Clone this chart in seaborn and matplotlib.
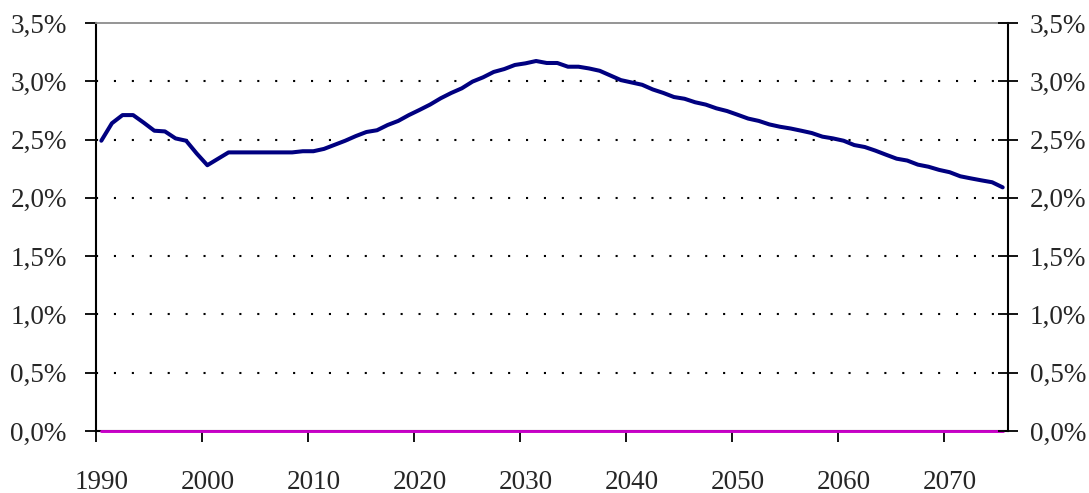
import numpy as np
import pandas as pd
import matplotlib
matplotlib.use("Agg")
import matplotlib.pyplot as plt
from matplotlib.ticker import FuncFormatter, FixedLocator
import seaborn as sns

years = list(range(1990, 2076))
share = [
    2.49, 2.64, 2.71, 2.71, 2.645, 2.576, 2.57, 2.51, 2.49, 2.38,   # 1990-1999
    2.28, 2.335, 2.39, 2.39, 2.39, 2.39, 2.39, 2.39, 2.39, 2.40,    # 2000-2009
    2.40, 2.42, 2.455, 2.49, 2.53, 2.565, 2.58, 2.625, 2.66, 2.71,  # 2010-2019
    2.754, 2.80, 2.854, 2.90, 2.94, 2.997, 3.034, 3.08, 3.105, 3.14,  # 2020-2029
    3.154, 3.174, 3.157, 3.157, 3.125, 3.125, 3.11, 3.09, 3.05, 3.01,  # 2030-2039
    2.99, 2.97, 2.93, 2.90, 2.865, 2.85, 2.82, 2.80, 2.768, 2.745,  # 2040-2049
    2.713, 2.68, 2.66, 2.63, 2.61, 2.595, 2.576, 2.556, 2.525, 2.51,  # 2050-2059
    2.49, 2.453, 2.436, 2.405, 2.37, 2.336, 2.32, 2.285, 2.267, 2.24,  # 2060-2069
    2.22, 2.185, 2.167, 2.15, 2.134, 2.09,                          # 2070-2075
]
baseline = [0.0] * len(years)
y_ticks = [0.0, 0.5, 1.0, 1.5, 2.0, 2.5, 3.0, 3.5]
x_labels = [1990, 2000, 2010, 2020, 2030, 2040, 2050, 2060, 2070]

df = pd.DataFrame({"year": years, "share": share, "baseline": baseline})

sns.set_style("white")
plt.rcParams["font.family"] = ["Liberation Serif", "DejaVu Serif"]
FS = 19.5

fig = plt.figure(figsize=(10.89, 4.93), dpi=100)
ax = fig.add_axes([96 / 1089, 62 / 493, (1008 - 96) / 1089, (431 - 23) / 493])

# dotted horizontal grid
for v in y_ticks[1:-1]:
    ax.axhline(v, color="black", linewidth=1.5, linestyle=(0, (1, 7.6)), zorder=1)

sns.lineplot(data=df, x="year", y="share", ax=ax, color="#000080",
             linewidth=2.9, zorder=4, legend=False)
sns.lineplot(data=df, x="year", y="baseline", ax=ax, color="#C800C8",
             linewidth=2.1, zorder=3, legend=False, clip_on=False)

ax.set_xlim(1989.5, 2075.5)
ax.set_ylim(0, 3.5)
ax.set_xlabel("")
ax.set_ylabel("")

pct = FuncFormatter(lambda v, p: f"{v:.1f}".replace(".", ",") + "%")

# x axis: tick marks at category boundaries, labels centred on categories
ax.xaxis.set_major_locator(FixedLocator([y - 0.5 for y in x_labels]))
ax.xaxis.set_minor_locator(FixedLocator(x_labels))
ax.set_xticklabels([])
ax.set_xticklabels([str(y) for y in x_labels], minor=True)
ax.tick_params(axis="x", which="major", direction="out", length=8, width=1.3,
               color="black", bottom=True)
ax.tick_params(axis="x", which="minor", length=0, pad=28, labelsize=FS)

ax.set_yticks(y_ticks)
ax.yaxis.set_major_formatter(pct)
ax.tick_params(axis="y", which="major", direction="out", length=8, width=1.3,
               color="black", left=True, labelsize=FS, pad=13)

for side in ["left", "bottom"]:
    ax.spines[side].set_color("black")
    ax.spines[side].set_linewidth(1.5)
ax.spines["top"].set_color("#8c8c8c")
ax.spines["top"].set_linewidth(1.3)
ax.spines["right"].set_color("black")
ax.spines["right"].set_linewidth(1.5)

ax2 = ax.twinx()
ax2.set_ylim(0, 3.5)
ax2.set_yticks(y_ticks)
ax2.yaxis.set_major_formatter(pct)
ax2.tick_params(axis="y", direction="inout", length=15, width=1.3,
                color="black", labelsize=FS, pad=8)
for s in ax2.spines.values():
    s.set_visible(False)

fig.savefig("out.png", dpi=100)
